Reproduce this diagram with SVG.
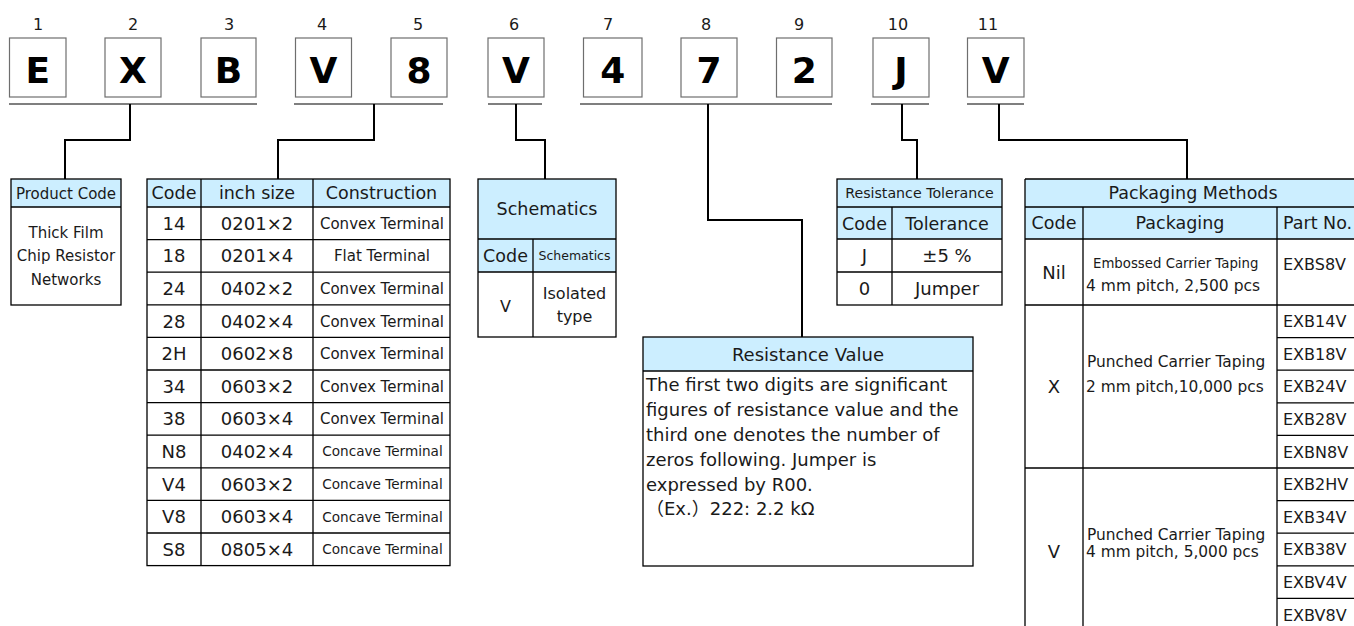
<svg xmlns="http://www.w3.org/2000/svg" width="1354" height="626" viewBox="0 0 1354 626">
<style>
text{font-family:"DejaVu Sans","Noto Sans",sans-serif;fill:#1a1a1a}
.num{font-size:16px;text-anchor:middle}
.big{font-size:36px;font-weight:bold;text-anchor:middle;fill:#000}
.box{fill:#fff;stroke:#6e6e6e;stroke-width:1.2}
.ul{stroke:#000;stroke-width:1.2;fill:none}
.con{stroke:#000;stroke-width:2;fill:none}
.hd{fill:#cceeff;stroke:none}
.bd{fill:none;stroke:#000;stroke-width:1.3}
.c{text-anchor:middle}
.s{text-anchor:start}
.f18{font-size:18px}.f175{font-size:17.5px}.f15{font-size:15px}.f16{font-size:16px}
</style>
<rect width="1354" height="626" fill="#fff"/>

<g id="code-boxes">
<g id="d1"><text class="num" x="38" y="29.5">1</text><rect class="box" x="9.5" y="38" width="56.5" height="59"/><text class="big" x="37.75" y="83">E</text></g>
<g id="d2"><text class="num" x="133" y="29.5">2</text><rect class="box" x="105" y="38" width="56" height="59"/><text class="big" x="133" y="83">X</text></g>
<g id="d3"><text class="num" x="229" y="29.5">3</text><rect class="box" x="201" y="38" width="55" height="59"/><text class="big" x="228.5" y="83">B</text></g>
<g id="d4"><text class="num" x="322" y="29.5">4</text><rect class="box" x="295.5" y="38" width="56" height="59"/><text class="big" x="323.5" y="83">V</text></g>
<g id="d5"><text class="num" x="418" y="29.5">5</text><rect class="box" x="391" y="38" width="56" height="59"/><text class="big" x="419" y="83">8</text></g>
<g id="d6"><text class="num" x="514" y="29.5">6</text><rect class="box" x="488" y="38" width="56" height="59"/><text class="big" x="516" y="83">V</text></g>
<g id="d7"><text class="num" x="608" y="29.5">7</text><rect class="box" x="583.5" y="38" width="58.5" height="59"/><text class="big" x="612.75" y="83">4</text></g>
<g id="d8"><text class="num" x="706" y="29.5">8</text><rect class="box" x="681" y="38" width="56" height="59"/><text class="big" x="709" y="83">7</text></g>
<g id="d9"><text class="num" x="799" y="29.5">9</text><rect class="box" x="776.5" y="38" width="55.5" height="59"/><text class="big" x="804.25" y="83">2</text></g>
<g id="d10"><text class="num" x="898" y="29.5">10</text><rect class="box" x="873" y="38" width="56" height="59"/><text class="big" x="901" y="83">J</text></g>
<g id="d11"><text class="num" x="988" y="29.5">11</text><rect class="box" x="967.5" y="38" width="56.5" height="59"/><text class="big" x="995.75" y="83">V</text></g>
</g>

<g id="connectors">
<path class="ul" d="M9,104H257M294,104H443M488,104H542M580,104H832M871,104H929M967,104H1024"/>
<path class="con" d="M130,104V140H65V179"/>
<path class="con" d="M374,104V140H278V179"/>
<path class="con" d="M516,104V140H545V179"/>
<path class="con" d="M708,104V220H802V337"/>
<path class="con" d="M902,104V140H917V179"/>
<path class="con" d="M999,104V140H1187V179"/>
</g>

<g id="product-code">
<rect class="hd" x="11" y="179" width="110" height="28"/>
<rect class="bd" x="11" y="179" width="110" height="126"/>
<line class="bd" x1="11" y1="207" x2="121" y2="207"/>
<text class="c f15" x="66" y="198.5">Product Code</text>
<text class="c f15" x="66" y="237.5">Thick Film</text>
<text class="c f15" x="66" y="261">Chip Resistor</text>
<text class="c f15" x="66" y="284.5">Networks</text>
</g>

<g id="size-table">
<rect class="hd" x="147" y="179" width="303" height="28"/>
<rect class="bd" x="147" y="179" width="303" height="386.6"/>
<path class="bd" d="M201,179V565.6M313,179V565.6M147,207H450M147,239.6H450M147,272.2H450M147,304.8H450M147,337.4H450M147,370H450M147,402.6H450M147,435.2H450M147,467.8H450M147,500.4H450M147,533H450"/>
<text class="c f175" x="174" y="199.4">Code</text>
<text class="c f175" x="257" y="199.4">inch size</text>
<text class="c f175" x="381.5" y="199.4">Construction</text>
<g class="f18">
<text class="c" x="174" y="229.8">14</text><text class="c" x="257" y="229.8">0201×2</text>
<text class="c" x="174" y="262.4">18</text><text class="c" x="257" y="262.4">0201×4</text>
<text class="c" x="174" y="295">24</text><text class="c" x="257" y="295">0402×2</text>
<text class="c" x="174" y="327.6">28</text><text class="c" x="257" y="327.6">0402×4</text>
<text class="c" x="174" y="360.2">2H</text><text class="c" x="257" y="360.2">0602×8</text>
<text class="c" x="174" y="392.8">34</text><text class="c" x="257" y="392.8">0603×2</text>
<text class="c" x="174" y="425.4">38</text><text class="c" x="257" y="425.4">0603×4</text>
<text class="c" x="174" y="458">N8</text><text class="c" x="257" y="458">0402×4</text>
<text class="c" x="174" y="490.6">V4</text><text class="c" x="257" y="490.6">0603×2</text>
<text class="c" x="174" y="523.2">V8</text><text class="c" x="257" y="523.2">0603×4</text>
<text class="c" x="174" y="555.8">S8</text><text class="c" x="257" y="555.8">0805×4</text>
</g>
<g class="f15">
<text class="c" x="382" y="228.8">Convex Terminal</text>
<text class="c" x="382" y="261.4">Flat Terminal</text>
<text class="c" x="382" y="294">Convex Terminal</text>
<text class="c" x="382" y="326.6">Convex Terminal</text>
<text class="c" x="382" y="359.2">Convex Terminal</text>
<text class="c" x="382" y="391.8">Convex Terminal</text>
<text class="c" x="382" y="424.4">Convex Terminal</text>
</g>
<g style="font-size:13.6px">
<text class="c" x="382.5" y="456.4">Concave Terminal</text>
<text class="c" x="382.5" y="489">Concave Terminal</text>
<text class="c" x="382.5" y="521.6">Concave Terminal</text>
<text class="c" x="382.5" y="554.2">Concave Terminal</text>
</g>
</g>

<g id="schematics">
<rect class="hd" x="478" y="179" width="138" height="93"/>
<rect class="bd" x="478" y="179" width="138" height="158"/>
<path class="bd" d="M478,239H616M478,272H616M533,239V337"/>
<text class="c f175" x="547" y="215.4">Schematics</text>
<text class="c f175" x="505.5" y="262">Code</text>
<text class="c" style="font-size:12.5px" x="574.5" y="260">Schematics</text>
<text class="c f16" x="505.5" y="312">V</text>
<text class="c f16" x="574.5" y="298.5">Isolated</text>
<text class="c f16" x="574.5" y="321.5">type</text>
</g>

<g id="tolerance">
<rect class="hd" x="837" y="179" width="165" height="60"/>
<rect class="bd" x="837" y="179" width="165" height="126"/>
<path class="bd" d="M837,207H1002M837,239H1002M837,272H1002M892,207V305"/>
<text class="c" style="font-size:14.2px" x="919.5" y="198">Resistance Tolerance</text>
<text class="c f175" x="864.5" y="229.5">Code</text>
<text class="c f175" x="947" y="229.5">Tolerance</text>
<text class="c f18" x="864.5" y="262">J</text>
<text class="c f18" x="947" y="262">±5 %</text>
<text class="c f18" x="864.5" y="295">0</text>
<text class="c f18" x="947" y="295">Jumper</text>
</g>

<g id="resistance-value">
<rect class="hd" x="643" y="337" width="330" height="34"/>
<rect class="bd" x="643" y="337" width="330" height="229"/>
<line class="bd" x1="643" y1="371" x2="973" y2="371"/>
<text class="c f18" x="808" y="360.5">Resistance Value</text>
<g class="f18">
<text class="s" x="646" y="391">The first two digits are significant</text>
<text class="s" x="646" y="416">figures of resistance value and the</text>
<text class="s" x="646" y="441">third one denotes the number of</text>
<text class="s" x="646" y="466">zeros following. Jumper is</text>
<text class="s" x="646" y="491">expressed by R00.</text>
<text class="s" x="646" y="515" style="font-family:'DejaVu Sans','Noto Sans CJK JP',sans-serif">（Ex.）222: 2.2 kΩ</text>
</g>
</g>

<g id="packaging">
<rect class="hd" x="1025" y="179" width="340" height="60"/>
<path class="bd" d="M1025,179H1365M1025,179V640M1025,207H1365M1025,239H1365M1025,305H1365M1025,468H1365M1083,207V640M1277,207V640M1277,337.6H1365M1277,370.2H1365M1277,402.8H1365M1277,435.4H1365M1277,500.6H1365M1277,533.2H1365M1277,565.8H1365M1277,598.4H1365"/>
<text class="c f175" x="1193" y="199.4">Packaging Methods</text>
<text class="c f175" x="1054" y="229.4">Code</text>
<text class="c f175" x="1180" y="229.4">Packaging</text>
<text class="s f175" x="1283" y="229.4">Part No.</text>
<text class="c f18" x="1054" y="278.5">Nil</text>
<text class="s" style="font-size:13.3px" x="1093" y="268">Embossed Carrier Taping</text>
<text class="s" style="font-size:15.5px" x="1086" y="290.6">4 mm pitch, 2,500 pcs</text>
<text class="c f18" x="1054" y="393">X</text>
<text class="s" style="font-size:15.4px" x="1087" y="367.3">Punched Carrier Taping</text>
<text class="s" style="font-size:15.4px" x="1086" y="392.3">2 mm pitch,10,000 pcs</text>
<text class="c f18" x="1054" y="558">V</text>
<text class="s" style="font-size:15.4px" x="1087" y="539.6">Punched Carrier Taping</text>
<text class="s" style="font-size:15.4px" x="1086" y="557.3">4 mm pitch, 5,000 pcs</text>
<g class="f16">
<text class="s" x="1283" y="270">EXBS8V</text>
<text class="s" x="1283" y="327">EXB14V</text>
<text class="s" x="1283" y="359.7">EXB18V</text>
<text class="s" x="1283" y="392.3">EXB24V</text>
<text class="s" x="1283" y="424.9">EXB28V</text>
<text class="s" x="1283" y="457.5">EXBN8V</text>
<text class="s" x="1283" y="490">EXB2HV</text>
<text class="s" x="1283" y="522.7">EXB34V</text>
<text class="s" x="1283" y="555.3">EXB38V</text>
<text class="s" x="1283" y="587.9">EXBV4V</text>
<text class="s" x="1283" y="620.5">EXBV8V</text>
</g>
</g>
</svg>
